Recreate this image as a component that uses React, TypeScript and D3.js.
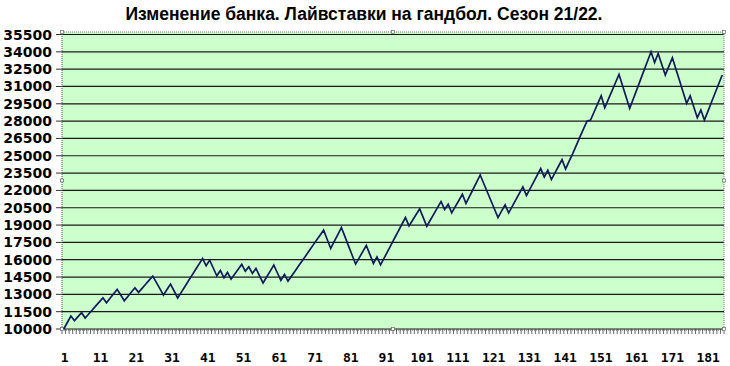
import React from 'react';
import * as d3 from 'd3';

const title = 'Изменение банка. Лайвставки на гандбол. Сезон 21/22.';

const bank: number[] = [
  10000, 10560, 11120, 10720, 11070, 11410, 10950, 11300, 11650, 12000,
  12350, 12700, 12270, 12660, 13050, 13430, 12940, 12450, 12820, 13200,
  13570, 13170, 13520, 13870, 14230, 14580, 14030, 13490, 12940, 13420,
  13890, 13290, 12680, 13170, 13660, 14150, 14640, 15130, 15620, 16110,
  15470, 15960, 15280, 14610, 15070, 14430, 14900, 14320, 14740, 15170,
  15590, 15010, 15390, 14810, 15250, 14610, 13980, 14500, 15010, 15530,
  14870, 14210, 14730, 14150, 14590, 15030, 15470, 15910, 16350, 16800,
  17240, 17680, 18120, 18560, 17770, 16975, 17580, 18180, 18790, 18000,
  17200, 16410, 15620, 16160, 16700, 17230, 16460, 15680, 16250, 15560,
  16140, 16730, 17310, 17900, 18480, 19070, 19650, 18930, 19420, 19910,
  20400, 19650, 18900, 19440, 19970, 20510, 21040, 20350, 20800, 20050,
  20590, 21130, 21670, 20870, 21490, 22100, 22720, 23340, 22600, 21860,
  21130, 20390, 19650, 20200, 20740, 20050, 20610, 21180, 21740, 22300,
  21560, 22140, 22720, 23310, 23890, 23160, 23740, 22940, 23520, 24090,
  24670, 23860, 24530, 25190, 25900, 26620, 27310, 28000, 28090, 28790,
  29500, 30200, 29160, 29880, 30600, 31320, 32040, 31060, 30080, 29100,
  29920, 30730, 31550, 32370, 33180, 34000, 33080, 33860, 32930, 31990,
  32740, 33490, 32500, 31510, 30530, 29540, 30200, 29250, 28300, 28960,
  28090, 28870, 29650, 30430, 31210, 31990,
];

const yTicks: number[] = [
  10000, 11500, 13000, 14500, 16000, 17500, 19000, 20500, 22000, 23500,
  25000, 26500, 28000, 29500, 31000, 32500, 34000, 35500,
];

const xTickLabels: number[] = [1, 11, 21, 31, 41, 51, 61, 71, 81, 91, 101, 111, 121, 131, 141, 151, 161, 171, 181];

export default function App() {
  const W = 730;
  const H = 366;
  const left = 62;
  const right = 724;
  const top = 32;
  const bottom = 329;
  const N = bank.length;

  const x = d3.scaleLinear().domain([0.5, N + 0.5]).range([left, right]);
  const y = d3.scaleLinear().domain([10000, 35500]).range([bottom, 34.5]);
  const line = d3
    .line<number>()
    .x((_d, i) => x(i + 1))
    .y((d) => y(d));

  const catTicks = d3.range(0, N + 1).map((k) => x(k + 0.5));

  const handles: [number, number][] = [
    [left, top],
    [(left + right) / 2, top],
    [right, top],
    [left, (top + bottom) / 2],
    [right, (top + bottom) / 2],
    [left, bottom],
    [(left + right) / 2, bottom],
    [right, bottom],
  ];

  return (
    <svg
      width={W}
      height={H}
      viewBox={`0 0 ${W} ${H}`}
      style={{ position: 'absolute', left: 0, top: 0, background: '#ffffff' }}
    >
      <rect x={0} y={0} width={W} height={H} fill="#ffffff" />
      <text
        x={364}
        y={20}
        textAnchor="middle"
        fontFamily="'Liberation Sans', Arial, sans-serif"
        fontWeight="bold"
        fontSize={17.5}
        fill="#000"
      >
        {title}
      </text>

      <rect x={left} y={top} width={right - left} height={bottom - top} fill="#ccffcc" />

      {yTicks.map((t) => (
        <line key={'g' + t} x1={left} x2={right} y1={y(t)} y2={y(t)} stroke="#1a1a1a" strokeWidth={1.2} />
      ))}

      {/* dotted frame */}
      <line x1={left} x2={right} y1={top} y2={top} stroke="#777" strokeDasharray="1,1" />
      <line x1={right} x2={right} y1={top} y2={bottom} stroke="#777" strokeDasharray="1,1" />
      <line x1={left} x2={left} y1={top} y2={bottom + 1} stroke="#555" strokeDasharray="1,1" />
      <line x1={left} x2={right} y1={bottom + 1} y2={bottom + 1} stroke="#555" strokeDasharray="1,1" />

      {yTicks.map((t) => (
        <line key={'yt' + t} x1={left - 6} x2={left} y1={y(t)} y2={y(t)} stroke="#333" strokeWidth={1} />
      ))}
      {catTicks.map((cx, k) => (
        <line key={'xt' + k} x1={cx} x2={cx} y1={bottom} y2={bottom + 5} stroke="#444" strokeWidth={0.8} />
      ))}

      {handles.map(([hx, hy], k) => (
        <rect key={'h' + k} x={hx - 1.5} y={hy - 1.5} width={3} height={3} fill="#fff" stroke="#666" strokeWidth={0.7} />
      ))}

      <path d={line(bank) || ''} fill="none" stroke="#101a5a" strokeWidth={1.7} strokeLinejoin="miter" />

      {yTicks.map((t) => (
        <text
          key={'yl' + t}
          x={52}
          y={y(t) + 5}
          textAnchor="end"
          fontFamily="'DejaVu Sans', Verdana, sans-serif"
          fontWeight="bold"
          fontSize={14}
          fill="#000"
        >
          {t}
        </text>
      ))}

      {xTickLabels.map((v) => (
        <text
          key={'xl' + v}
          x={x(v) + 1 + (v - 1) * 0.015}
          y={362}
          textAnchor="middle"
          fontFamily="'DejaVu Sans Mono', monospace"
          fontWeight="bold"
          fontSize={13}
          fill="#000"
        >
          {v}
        </text>
      ))}
    </svg>
  );
}
